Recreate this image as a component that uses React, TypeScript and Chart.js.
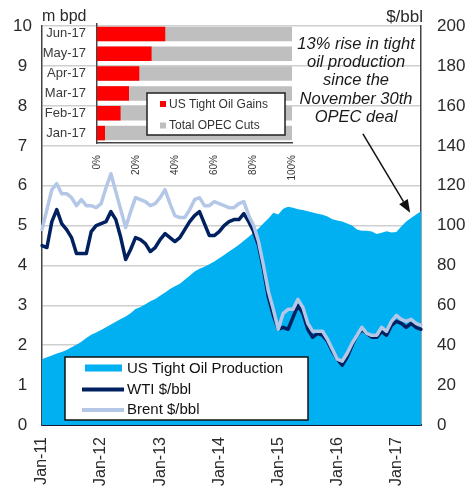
import React, { useEffect, useRef } from "react";
import { Chart, registerables } from "chart.js";

Chart.register(...registerables);

const FONT = "'Liberation Sans', Arial, Helvetica, sans-serif";

// ---------- categories ----------
const MONTH_NAMES = ["Jan", "Feb", "Mar", "Apr", "May", "Jun", "Jul", "Aug", "Sep", "Oct", "Nov", "Dec"];
const YEARS = ["11", "12", "13", "14", "15", "16", "17"];
const MONTHS_IN_LAST_YEAR = 6;
const months: string[] = [];
YEARS.forEach((yy, yi) => {
  const n = yi === YEARS.length - 1 ? MONTHS_IN_LAST_YEAR : 12;
  for (let i = 0; i < n; i++) months.push(`${MONTH_NAMES[i]}-${yy}`);
});

// ---------- series (Jan-11 .. Jun-17) ----------
// US tight oil production, m bpd (left axis)
const tightOil = [
  1.65, 1.70, 1.74, 1.79, 1.83, 1.88, 1.95, 2.01, 2.09, 2.18, 2.26, 2.32,
  2.38, 2.45, 2.52, 2.59, 2.66, 2.72, 2.80, 2.91, 2.96, 3.03, 3.10, 3.16,
  3.24, 3.32, 3.41, 3.48, 3.54, 3.64, 3.74, 3.85, 3.92, 3.97, 4.03, 4.10,
  4.18, 4.26, 4.35, 4.43, 4.52, 4.62, 4.72, 4.83, 4.93, 5.06, 5.18, 5.32,
  5.28, 5.42, 5.47, 5.45, 5.41, 5.39, 5.36, 5.33, 5.30, 5.27, 5.23, 5.16,
  5.13, 5.10, 5.05, 5.00, 4.90, 4.87, 4.87, 4.85, 4.79, 4.82, 4.86, 4.83,
  4.84, 4.98, 5.10, 5.19, 5.28, 5.36,
];
// WTI, $/bbl (right axis)
const wti = [
  90, 89, 102, 108, 101, 98, 94, 86, 86, 86, 97, 100,
  101, 102, 107, 103, 94, 83, 88, 94, 93, 91, 87, 89,
  93, 96, 94, 92, 94, 98, 102, 105, 107, 101, 95, 95,
  97, 100, 102, 103, 103, 106, 102, 97, 90, 78, 64, 55,
  48, 49, 48, 54, 60, 56, 48, 44, 46, 45, 42, 37,
  33, 30, 34, 40, 45, 48, 46, 44, 44, 47, 45, 50,
  52, 51, 49, 51, 49, 48,
];
// Brent, $/bbl (right axis)
const brent = [
  98, 108, 118, 121, 116, 116, 114, 110, 113, 110, 110, 109,
  111, 119, 126, 117, 108, 99, 107, 114, 113, 112, 110, 111,
  114, 118, 111, 105, 104, 104, 108, 113, 114, 110, 110, 112,
  111, 110, 109, 109, 111, 112, 105, 100, 92, 80, 67, 58,
  48, 56, 58, 58, 63, 59, 51, 47, 47, 47, 43, 38,
  33, 32, 36, 41, 45, 49, 46, 45, 45, 49, 47, 52,
  55, 53, 52, 53, 51, 50,
];

// ---------- inset ----------
const insetCategories = ["Jun-17", "May-17", "Apr-17", "Mar-17", "Feb-17", "Jan-17"];
const tightOilGainsPct = [35, 28, 21.7, 16.4, 12.1, 4.1];
const opecCutsPct = [100, 100, 100, 100, 100, 100];
const insetTicksPct = [0, 20, 40, 60, 80, 100];

// ---------- text ----------
const leftUnit = "m bpd";
const rightUnit = "$/bbl";
const annotationLines = ["13% rise in tight", "oil production", "since the", "November 30th", "OPEC deal"];
// annotation anchors in data units: [month index, left-axis value]
const annotationTextAnchor = [63.8, 9.44];
const arrowFrom = [65.2, 7.3];
const arrowTo = [74.8, 5.32];

const COLORS = {
  area: "#00B0F0",
  wti: "#002060",
  brent: "#B4C7E7",
  gains: "#FF0000",
  cuts: "#BFBFBF",
  grid: "#cfcfcf",
  text: "#2a2a2a",
};

const mainOverlay = {
  id: "mainOverlay",
  afterDraw(chart: any) {
    const { ctx, chartArea, scales } = chart;
    const xs = scales.x;
    const yl = scales.y;
    ctx.save();
    // unit titles
    ctx.fillStyle = COLORS.text;
    ctx.textBaseline = "alphabetic";
    ctx.font = `16px ${FONT}`;
    ctx.textAlign = "left";
    ctx.fillText(leftUnit, chartArea.left, chartArea.top - 5.5);
    ctx.font = `17px ${FONT}`;
    ctx.textAlign = "right";
    ctx.fillText(rightUnit, chartArea.right + 2, chartArea.top - 4.5);

    // legend box
    const bx = chartArea.left + 23;
    const by = chartArea.bottom - 68;
    const bw = 243;
    const bh = 63;
    ctx.fillStyle = "#ffffff";
    ctx.fillRect(bx, by, bw, bh);
    ctx.strokeStyle = "#111";
    ctx.lineWidth = 1.5;
    ctx.strokeRect(bx, by, bw, bh);
    const dsets = chart.data.datasets;
    const rows = [11, 31.5, 52];
    ctx.font = `15px ${FONT}`;
    ctx.textAlign = "left";
    ctx.textBaseline = "middle";
    dsets.forEach((ds: any, i: number) => {
      const cy = by + rows[i];
      if (ds.fill) {
        ctx.fillStyle = ds.backgroundColor;
        ctx.fillRect(bx + 20, cy - 3.5, 37, 7);
      } else {
        ctx.strokeStyle = ds.borderColor;
        ctx.lineWidth = 4;
        ctx.beginPath();
        ctx.moveTo(bx + 17, cy + 1);
        ctx.lineTo(bx + 59, cy + 1);
        ctx.stroke();
      }
      ctx.fillStyle = "#111";
      ctx.fillText(ds.label, bx + 62, cy + 1);
    });

    // annotation text
    const tx = xs.getPixelForValue(annotationTextAnchor[0]);
    const ty = yl.getPixelForValue(annotationTextAnchor[1]);
    ctx.font = `italic 16.5px ${FONT}`;
    ctx.textAlign = "center";
    ctx.textBaseline = "alphabetic";
    ctx.fillStyle = "#1a1a1a";
    annotationLines.forEach((line, i) => ctx.fillText(line, tx, ty + i * 18.4));

    // arrow
    const x1 = xs.getPixelForValue(arrowFrom[0]);
    const y1 = yl.getPixelForValue(arrowFrom[1]);
    const x2 = xs.getPixelForValue(arrowTo[0]);
    const y2 = yl.getPixelForValue(arrowTo[1]);
    const ang = Math.atan2(y2 - y1, x2 - x1);
    const headLen = 13;
    const headW = 5;
    const bxh = x2 - headLen * Math.cos(ang);
    const byh = y2 - headLen * Math.sin(ang);
    ctx.strokeStyle = "#111";
    ctx.lineWidth = 1.5;
    ctx.beginPath();
    ctx.moveTo(x1, y1);
    ctx.lineTo(bxh, byh);
    ctx.stroke();
    ctx.fillStyle = "#111";
    ctx.beginPath();
    ctx.moveTo(x2, y2);
    ctx.lineTo(bxh + headW * Math.sin(ang), byh - headW * Math.cos(ang));
    ctx.lineTo(bxh - headW * Math.sin(ang), byh + headW * Math.cos(ang));
    ctx.closePath();
    ctx.fill();
    ctx.restore();
  },
};

const insetOverlay = {
  id: "insetOverlay",
  afterDraw(chart: any) {
    const { ctx, chartArea } = chart;
    ctx.save();
    const bx = chartArea.left + 50;
    const by = chartArea.top + 69;
    const bw = 138;
    const bh = 42;
    ctx.fillStyle = "#ffffff";
    ctx.fillRect(bx, by, bw, bh);
    ctx.strokeStyle = "#222";
    ctx.lineWidth = 1.5;
    ctx.strokeRect(bx, by, bw, bh);
    const rows = [11, 32.5];
    ctx.font = `12px ${FONT}`;
    ctx.textAlign = "left";
    ctx.textBaseline = "middle";
    chart.data.datasets.forEach((ds: any, i: number) => {
      const cy = by + rows[i];
      ctx.fillStyle = ds.backgroundColor;
      ctx.fillRect(bx + 13, cy - 3, 6, 6);
      ctx.fillStyle = "#333";
      ctx.fillText(ds.label, bx + 22, cy + 0.5);
    });
    ctx.restore();
  },
};

export default function App() {
  const mainRef = useRef<HTMLCanvasElement | null>(null);
  const insetRef = useRef<HTMLCanvasElement | null>(null);

  useEffect(() => {
    if (!mainRef.current || !insetRef.current) return;
    const main = new Chart(mainRef.current, {
      type: "line",
      data: {
        labels: months,
        datasets: [
          {
            label: "US Tight Oil Production",
            data: tightOil,
            yAxisID: "y",
            fill: "origin",
            backgroundColor: COLORS.area,
            borderColor: COLORS.area,
            borderWidth: 0,
            pointRadius: 0,
            order: 3,
          },
          {
            label: "WTI $/bbl",
            data: wti,
            yAxisID: "y2",
            fill: false,
            borderColor: COLORS.wti,
            borderWidth: 3.5,
            pointRadius: 0,
            order: 2,
          },
          {
            label: "Brent $/bbl",
            data: brent,
            yAxisID: "y2",
            fill: false,
            borderColor: COLORS.brent,
            borderWidth: 3.5,
            pointRadius: 0,
            order: 1,
          },
        ] as any,
      },
      options: {
        responsive: false,
        animation: false,
        layout: { padding: { top: 24, left: 0, right: 0, bottom: 0 } },
        elements: { line: { tension: 0, borderJoinStyle: "round", borderCapStyle: "round" } },
        plugins: { legend: { display: false }, tooltip: { enabled: false } },
        scales: {
          x: {
            type: "category",
            grid: { display: false, drawTicks: false },
            border: { display: true, color: "#1a1a2a", width: 2 },
            ticks: {
              autoSkip: false,
              minRotation: 90,
              maxRotation: 90,
              padding: 12,
              color: COLORS.text,
              font: { family: FONT, size: 16 },
              callback: (_v: any, i: number) => (months[i].startsWith("Jan") ? months[i] : ""),
            },
            afterFit: (s: any) => {
              s.height = 65;
            },
          },
          y: {
            position: "left",
            min: 0,
            max: 10,
            grid: { color: COLORS.grid, lineWidth: 1.5, drawTicks: false },
            border: { display: true, color: "#444", width: 1.5 },
            ticks: {
              stepSize: 1,
              padding: 10,
              crossAlign: "center",
              color: COLORS.text,
              font: { family: FONT, size: 17 },
            },
            afterFit: (s: any) => {
              s.width = 42;
            },
          },
          y2: {
            position: "right",
            min: 0,
            max: 200,
            grid: { display: false, drawTicks: false },
            border: { display: true, color: "#444", width: 1.5 },
            ticks: {
              stepSize: 20,
              padding: 16,
              color: COLORS.text,
              font: { family: FONT, size: 17 },
            },
            afterFit: (s: any) => {
              s.width = 44;
            },
          },
        },
      } as any,
      plugins: [mainOverlay],
    });

    const inset = new Chart(insetRef.current, {
      type: "bar",
      data: {
        labels: insetCategories,
        datasets: [
          {
            label: "US Tight Oil Gains",
            data: tightOilGainsPct,
            backgroundColor: COLORS.gains,
            grouped: false,
            categoryPercentage: 1,
            barPercentage: 0.73,
            order: 1,
          },
          {
            label: "Total OPEC Cuts",
            data: opecCutsPct,
            backgroundColor: COLORS.cuts,
            grouped: false,
            categoryPercentage: 1,
            barPercentage: 0.73,
            order: 2,
          },
        ] as any,
      },
      options: {
        indexAxis: "y",
        responsive: false,
        animation: false,
        layout: { padding: { top: 24, right: 173, left: 0, bottom: 0 } },
        plugins: { legend: { display: false }, tooltip: { enabled: false } },
        scales: {
          x: {
            type: "linear",
            min: insetTicksPct[0],
            max: insetTicksPct[insetTicksPct.length - 1],
            grid: { display: false, drawTicks: false },
            border: { display: true, color: "#444", width: 1.5 },
            afterBuildTicks: (s: any) => {
              s.ticks = insetTicksPct.map((v) => ({ value: v }));
            },
            ticks: {
              minRotation: 90,
              maxRotation: 90,
              padding: 12,
              color: "#333",
              font: { family: FONT, size: 10 },
              callback: (v: any) => `${v}%`,
            },
            afterFit: (s: any) => {
              s.height = 490 - 143;
            },
          },
          y: {
            type: "category",
            grid: { display: false, drawTicks: false },
            border: { display: true, color: "#444", width: 1.5 },
            ticks: {
              padding: 11,
              color: "#3a3a3a",
              font: { family: FONT, size: 13 },
            },
            afterFit: (s: any) => {
              s.width = 97;
            },
          },
        },
      } as any,
      plugins: [insetOverlay],
    });

    return () => {
      main.destroy();
      inset.destroy();
    };
  }, []);

  return (
    <div style={{ position: "absolute", left: 0, top: 0, width: 465, height: 490, background: "#fff" }}>
      <canvas ref={mainRef} width={465} height={490} style={{ position: "absolute", left: 0, top: 0 }} />
      <canvas
        ref={insetRef}
        width={465}
        height={490}
        style={{ position: "absolute", left: 0, top: 0, pointerEvents: "none" }}
      />
    </div>
  );
}
